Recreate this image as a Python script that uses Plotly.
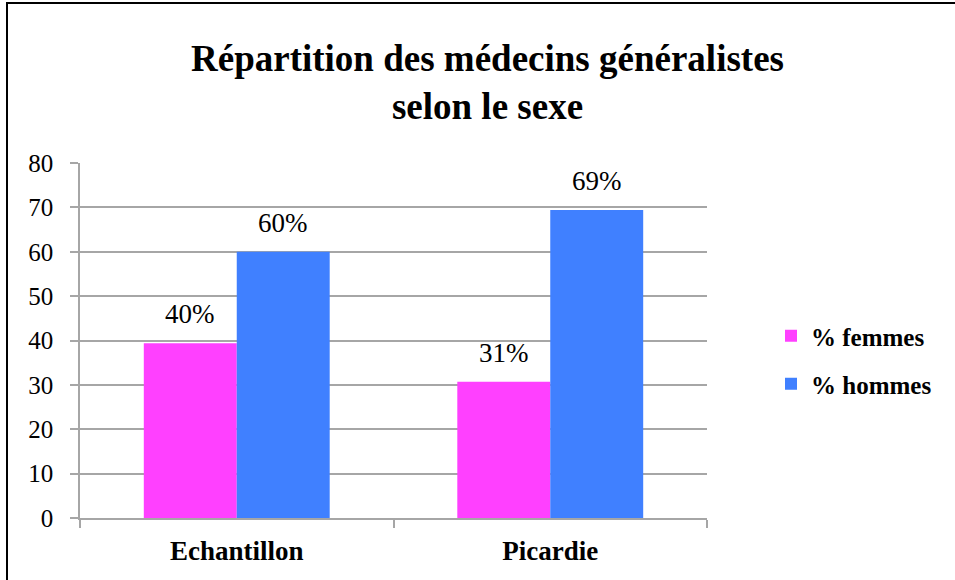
import plotly.graph_objects as go

categories = ["Echantillon", "Picardie"]
femmes = [39.4, 30.7]
hommes = [60.0, 69.4]
femmes_labels = ["40%", "31%"]
hommes_labels = ["60%", "69%"]
yticks = [0, 10, 20, 30, 40, 50, 60, 70, 80]

W, H = 955, 580
L, R, T, B = 80, 248, 163, 62
pw, ph = W - L - R, H - T - B
BARGAP = 0.407
bar_w = pw / len(categories) * (1 - BARGAP) / 2

def px_x(p):
    return (p - L) / pw

def px_y(p):
    return (H - B - p) / ph

serif = "Liberation Serif"
grey = "#A6A6A6"

fig = go.Figure()
fig.add_trace(go.Bar(
    x=categories, y=femmes, name="% femmes",
    marker=dict(color="#FF40FF", line=dict(width=0)),
    legend="legend", showlegend=True,
))
fig.add_trace(go.Bar(
    x=categories, y=hommes, name="% hommes",
    marker=dict(color="#4080FF", line=dict(width=0)),
    legend="legend2", showlegend=True,
))

annotations = []
for series, labels, sign in [(femmes, femmes_labels, -1), (hommes, hommes_labels, 1)]:
    for cat, val, lab in zip(categories, series, labels):
        annotations.append(dict(
            x=cat, y=val, xref="x", yref="y", text=lab, showarrow=False,
            xanchor="center", yanchor="bottom",
            xshift=sign * bar_w / 2, yshift=12,
            font=dict(family=serif, size=27, color="black"),
        ))

legend_font = dict(family=serif, size=25, color="black", weight="bold")

fig.update_layout(
    width=W, height=H,
    margin=dict(l=L, r=R, t=T, b=B, pad=0),
    paper_bgcolor="white", plot_bgcolor="white",
    barmode="group", bargap=BARGAP, bargroupgap=0,
    showlegend=True,
    title=dict(
        text="<b>Répartition des médecins généralistes<br>selon le sexe</b>",
        x=487.5 / W, xanchor="center", xref="container",
        y=1 - 71 / H, yanchor="top", yref="container",
        font=dict(family=serif, size=37, color="black"),
    ),
    legend=dict(
        visible=True,
        x=px_x(771), y=px_y(336), xanchor="left", yanchor="middle",
        font=legend_font, bgcolor="rgba(0,0,0,0)",
    ),
    legend2=dict(
        visible=True,
        x=px_x(771), y=px_y(384), xanchor="left", yanchor="middle",
        font=legend_font, bgcolor="rgba(0,0,0,0)",
    ),
    xaxis=dict(
        showline=True, linecolor=grey, linewidth=1.5,
        ticks="outside", tickson="boundaries", ticklen=8,
        tickcolor=grey, tickwidth=1.5,
        tickfont=dict(family=serif, size=27, color="black", weight="bold"),
        ticklabelstandoff=8,
        showgrid=False,
    ),
    yaxis=dict(
        range=[0, 80], tickvals=yticks,
        showline=True, linecolor=grey, linewidth=1.5,
        ticks="outside", ticklen=8, tickcolor=grey, tickwidth=1.5,
        showgrid=True, gridcolor=grey, gridwidth=1.5,
        zeroline=False,
        tickfont=dict(family=serif, size=25, color="black"),
        ticklabelstandoff=12,
    ),
    annotations=annotations,
    shapes=[dict(
        type="rect", xref="paper", yref="paper",
        x0=px_x(7), x1=px_x(962), y0=px_y(590), y1=px_y(3),
        line=dict(color="black", width=2), fillcolor="rgba(0,0,0,0)",
        layer="above",
    )],
)

fig.write_html(
    "out.html",
    config={"displayModeBar": False},
    post_script="document.body.style.margin='0';document.body.style.overflow='hidden';",
)
